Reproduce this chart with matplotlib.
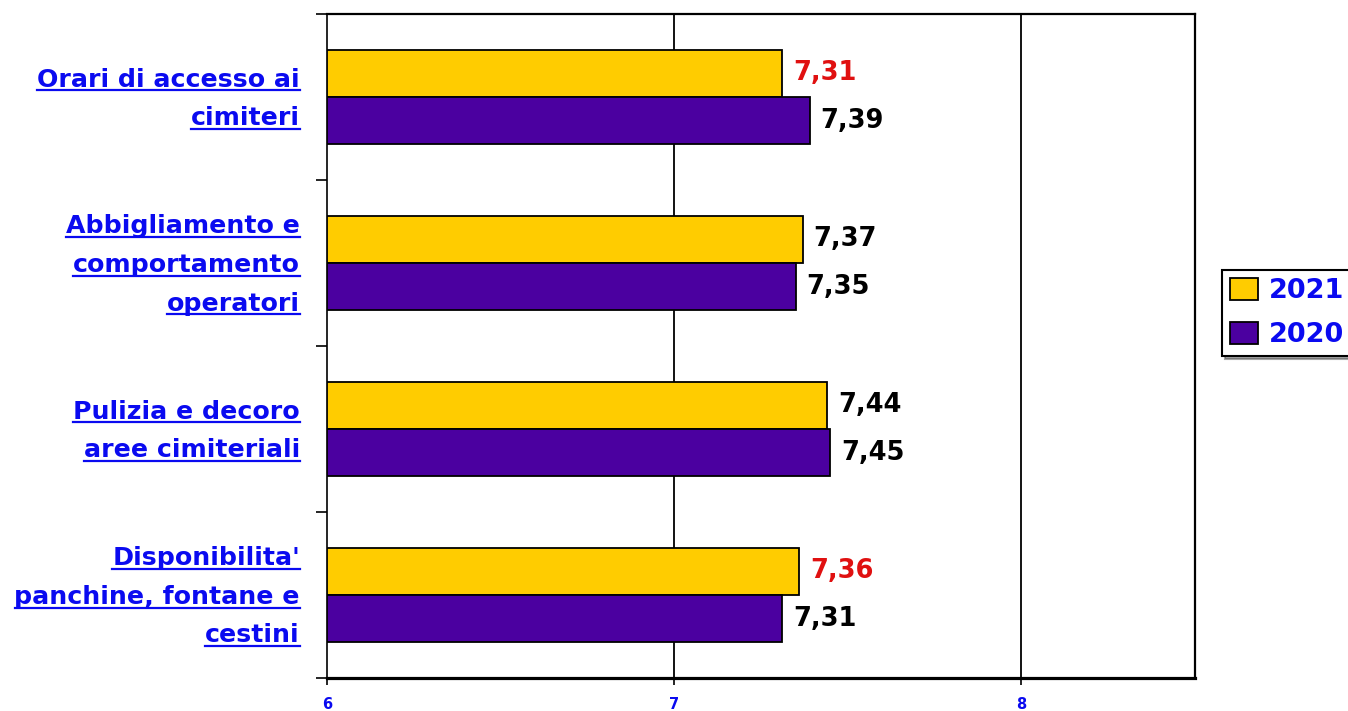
import matplotlib
matplotlib.use("Agg")
import matplotlib.pyplot as plt
from matplotlib.lines import Line2D
from matplotlib.patches import Patch

categories = [
    ["Orari di accesso ai", "cimiteri"],
    ["Abbigliamento e", "comportamento", "operatori"],
    ["Pulizia e decoro", "aree cimiteriali"],
    ["Disponibilita'", "panchine, fontane e", "cestini"],
]
series_names = ["2021", "2020"]
values_2021 = [7.31, 7.37, 7.44, 7.36]
values_2020 = [7.39, 7.35, 7.45, 7.31]
# labels highlighted in red (2021 series)
red_2021 = [True, False, False, True]
x_ticks = [6, 7, 8]

YELLOW = "#FFCC00"
PURPLE = "#4B00A0"
BLUE = "#0A0AF0"
FONT = "DejaVu Sans"

W, H = 1348, 711
fig = plt.figure(figsize=(W / 100, H / 100), dpi=100)
ax = fig.add_axes([327 / W, 1 - 678 / H, (1195 - 327) / W, (678 - 14) / H])

pos = list(range(len(categories)))
bh = 0.283
off = 0.1425
ax.barh([p - off for p in pos], [v - 6 for v in values_2021], left=6, height=bh,
        color=YELLOW, edgecolor="black", linewidth=1.3, zorder=3)
ax.barh([p + off for p in pos], [v - 6 for v in values_2020], left=6, height=bh,
        color=PURPLE, edgecolor="black", linewidth=1.3, zorder=3)

ax.set_xlim(6, 8.5)
ax.set_ylim(len(categories) - 0.5, -0.5)

for gx in x_ticks[1:]:
    ax.axvline(gx, color="black", linewidth=1.3, zorder=1)

ax.set_xticks(x_ticks)
ax.set_xticklabels([str(t) for t in x_ticks], color=BLUE, fontsize=10.5,
                   fontweight="bold", family=FONT)
ax.tick_params(axis="x", direction="out", length=5, width=1.2, pad=9)
ax.set_yticks([p - 0.5 for p in pos] + [len(categories) - 0.5])
ax.set_yticklabels([])
ax.tick_params(axis="y", direction="out", length=8, width=1.2)

ax.spines["bottom"].set_linewidth(2.3)
ax.spines["left"].set_linewidth(1.2)
ax.spines["top"].set_linewidth(1.6)
ax.spines["right"].set_linewidth(1.6)

# value labels
VAL_SIZE = 18.5
for p, v, red in zip(pos, values_2021, red_2021):
    ax.annotate(f"{v:.2f}".replace(".", ","), xy=(v, p - off), xytext=(11, 0),
                textcoords="offset pixels", va="center", ha="left",
                fontsize=VAL_SIZE, fontweight="bold", family=FONT,
                color="#E01010" if red else "black")
for p, v in zip(pos, values_2020):
    ax.annotate(f"{v:.2f}".replace(".", ","), xy=(v, p + off), xytext=(11, 0),
                textcoords="offset pixels", va="center", ha="left",
                fontsize=VAL_SIZE, fontweight="bold", family=FONT, color="black")

# underlined category labels, right-aligned left of the axis
fig.canvas.draw()
renderer = fig.canvas.get_renderer()
line_step = 38.5
x_right = 300
for p, lines in zip(pos, categories):
    cy_disp = ax.transData.transform((6, p))[1]  # display y (from bottom)
    n = len(lines)
    for i, txt in enumerate(lines):
        base = cy_disp - ((i - (n - 1) / 2) * line_step + 9)
        t = fig.text(x_right / W, base / H, txt, ha="right", va="baseline",
                     fontsize=18.2, fontweight="bold", family=FONT, color=BLUE)
        bb = t.get_window_extent(renderer)
        uy = (base - 3.5) / H
        fig.add_artist(Line2D([bb.x0 / W, bb.x1 / W], [uy, uy],
                              color=BLUE, linewidth=1.6,
                              transform=fig.transFigure))

handles = [Patch(facecolor=YELLOW, edgecolor="black", linewidth=1.3),
           Patch(facecolor=PURPLE, edgecolor="black", linewidth=1.3)]
leg = fig.legend(handles, series_names, loc="upper left",
                 bbox_to_anchor=(1222 / W, 1 - 270 / H),
                 prop={"family": FONT, "weight": "bold", "size": 19.5},
                 frameon=True, fancybox=False, shadow=True,
                 edgecolor="black", handlelength=1.04, handleheight=0.85,
                 handletextpad=0.4, labelspacing=0.65, borderpad=0.3,
                 borderaxespad=0)
leg.get_frame().set_linewidth(1.5)
for t in leg.get_texts():
    t.set_color(BLUE)

fig.savefig("out.png", dpi=100)
